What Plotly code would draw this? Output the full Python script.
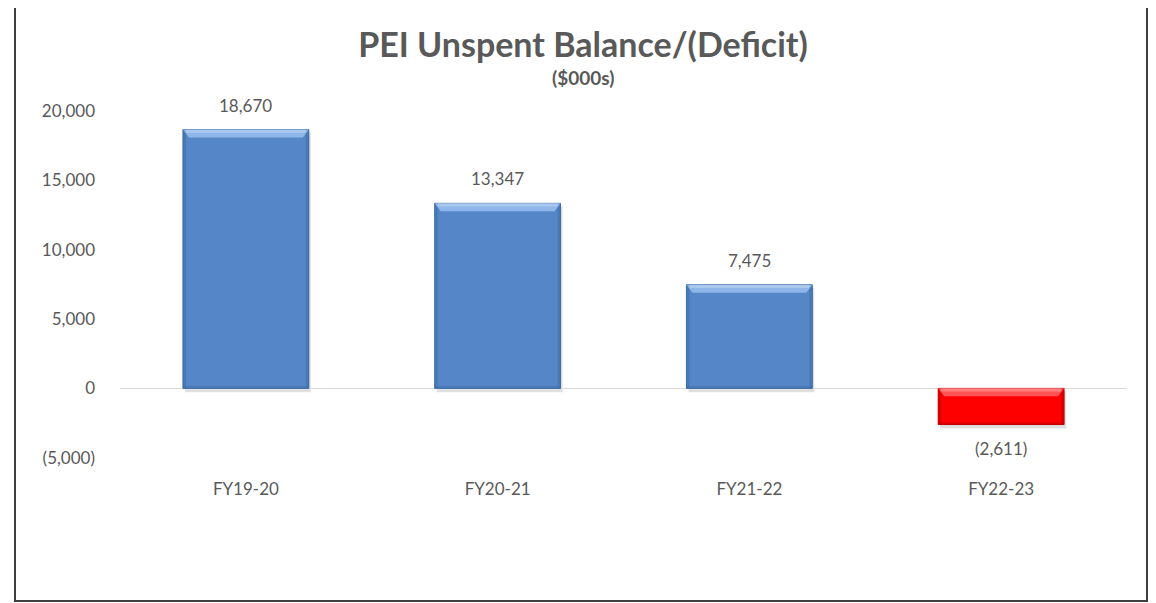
import plotly.graph_objects as go

categories = ["FY19-20", "FY20-21", "FY21-22", "FY22-23"]
values = [18670, 13347, 7475, -2611]
bar_colors = ["#5587C8", "#5587C8", "#5587C8", "#FF0000"]
top_colors = ["#9CC2F0", "#9CC2F0", "#9CC2F0", "#FF6A6A"]
edge_colors = ["#3E6DA8", "#3E6DA8", "#3E6DA8", "#C00000"]
y_ticks = [-5000, 0, 5000, 10000, 15000, 20000]


def fmt(v):
    s = f"{abs(v):,}"
    return f"({s})" if v < 0 else s


y_ticktext = [fmt(v) for v in y_ticks]

OFF = 8  # page body margin
W, H = 1156 - OFF, 603 - OFF
ML, MR, MT = 120 - OFF, 29, 100 - OFF
Y_RANGE = [-5600, 20800]
plot_h = 366
MB = H - MT - plot_h
px_per_unit = plot_h / (Y_RANGE[1] - Y_RANGE[0])
plot_w = W - ML - MR
px_per_cat = plot_w / len(categories)
BAR_W = 0.5
FONT = "Lato, sans-serif"
GREY = "#595959"
TITLE_CX = (583 - OFF) / W

fig = go.Figure()
fig.add_trace(go.Bar(
    x=list(range(len(categories))), y=values, width=BAR_W,
    marker=dict(color=bar_colors, line=dict(color=edge_colors, width=1)),
    hoverinfo="skip",
))

shapes = []
annotations = []
tb = 4 / px_per_unit   # bevel height in data units
sb = 3 / px_per_cat    # side bevel width in data units
for i, v in enumerate(values):
    x0, x1 = i - BAR_W / 2, i + BAR_W / 2
    top = max(v, 0)
    bot = min(v, 0)
    shapes.append(dict(type="rect", xref="x", yref="y", layer="below",
                       x0=x0 + 2 / px_per_cat, x1=x1 + 2 / px_per_cat,
                       y0=bot - 4 / px_per_unit, y1=top - 3 / px_per_unit,
                       fillcolor="rgba(0,0,0,0.12)", line=dict(width=0)))
    shapes.append(dict(type="rect", xref="x", yref="y", x0=x0, x1=x0 + sb,
                       y0=bot, y1=top, fillcolor=edge_colors[i], opacity=0.55,
                       line=dict(width=0)))
    shapes.append(dict(type="rect", xref="x", yref="y", x0=x1 - sb, x1=x1,
                       y0=bot, y1=top, fillcolor=edge_colors[i], opacity=0.55,
                       line=dict(width=0)))
    shapes.append(dict(type="rect", xref="x", yref="y", x0=x0, x1=x1,
                       y0=bot, y1=bot + 2 / px_per_unit, fillcolor=edge_colors[i],
                       opacity=0.6, line=dict(width=0)))
    path = (f"M {x0},{top} L {x1},{top} L {x1 - 2 * sb},{top - 2 * tb} "
            f"L {x0 + 2 * sb},{top - 2 * tb} Z")
    shapes.append(dict(type="path", xref="x", yref="y", path=path,
                       fillcolor=top_colors[i], opacity=0.8, line=dict(width=0)))
    shapes.append(dict(type="rect", xref="x", yref="y", x0=x0 + sb, x1=x1 - sb,
                       y0=top - tb * 0.8, y1=top, fillcolor="#FFFFFF", opacity=0.25,
                       line=dict(width=0)))
    annotations.append(dict(
        x=i, y=v, xref="x", yref="y", text=fmt(v), showarrow=False,
        yanchor="bottom" if v >= 0 else "top",
        yshift=12 if v >= 0 else -11,
        font=dict(family=FONT, size=17, color=GREY),
    ))

# outer border (page coords 15..1147, 5..601)
bx0 = (15 - OFF - ML) / plot_w
bx1 = (1147 - OFF - ML) / plot_w
by_top = (MT + plot_h - (5 - OFF)) / plot_h
by_bot = (MT + plot_h - (601 - OFF)) / plot_h
shapes.append(dict(type="rect", xref="paper", yref="paper", x0=bx0, x1=bx1,
                   y0=by_bot, y1=by_top, line=dict(color="#3F3F3F", width=2),
                   fillcolor="rgba(0,0,0,0)", layer="above"))

annotations.append(dict(
    x=(583 - OFF - ML) / plot_w, y=(MT + plot_h - (78 - OFF)) / plot_h,
    xref="paper", yref="paper", xanchor="center",
    yanchor="middle", text="<b>($000s)</b>", showarrow=False,
    font=dict(family=FONT, size=19, color=GREY),
))

fig.update_layout(
    width=W, height=H,
    margin=dict(l=ML, r=MR, t=MT, b=MB),
    paper_bgcolor="white", plot_bgcolor="white",
    showlegend=False,
    title=dict(text="<b>PEI Unspent Balance/(Deficit)</b>", x=TITLE_CX,
               xanchor="center", xref="container", y=1 - (45 - OFF) / H,
               yanchor="middle",
               font=dict(family=FONT, size=34, color=GREY)),
    shapes=shapes, annotations=annotations,
    xaxis=dict(tickmode="array", tickvals=list(range(len(categories))),
               ticktext=categories, range=[-0.5, len(categories) - 0.5],
               showgrid=False, zeroline=False, showline=False, ticks="",
               ticklabelstandoff=11,
               tickfont=dict(family=FONT, size=17, color=GREY)),
    yaxis=dict(range=Y_RANGE, tickmode="array", tickvals=y_ticks,
               ticktext=y_ticktext,
               showgrid=False, zeroline=True, zerolinecolor="#D9D9D9",
               zerolinewidth=1, showline=False, ticks="",
               ticklabelstandoff=24,
               tickfont=dict(family=FONT, size=17, color=GREY)),
)

fig.write_html("out.html")
